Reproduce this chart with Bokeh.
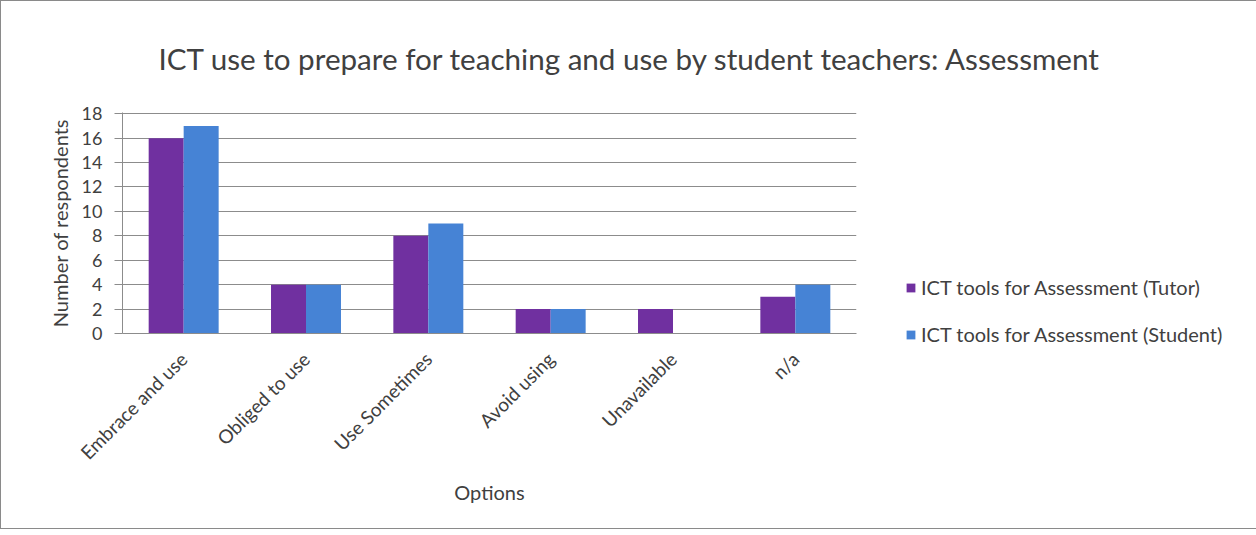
import math
from bokeh.plotting import figure
from bokeh.models import ColumnDataSource, Legend, LegendItem, FactorRange, Range1d, Title
from bokeh.transform import dodge
from bokeh.embed import file_html
from bokeh.resources import INLINE

categories = ["Embrace and use", "Obliged to use", "Use Sometimes", "Avoid using", "Unavailable", "n/a"]
tutor = [16, 4, 8, 2, 2, 3]
student = [17, 4, 9, 2, 0, 4]
series_names = ["ICT tools for Assessment (Tutor)", "ICT tools for Assessment (Student)"]
y_ticks = [0, 2, 4, 6, 8, 10, 12, 14, 16, 18]
title_text = "ICT use to prepare for teaching and use by student teachers: Assessment"

FONT = "Lato"
TXT = "#404040"
GRID = "#8c8c8c"

src = ColumnDataSource(dict(cat=categories, tutor=tutor, student=student))

p = figure(frame_width=734, frame_height=221, x_range=FactorRange(*categories), y_range=Range1d(0, 18.1),
           output_backend="svg", toolbar_location=None,
           min_border_left=121, min_border_right=385, min_border_top=111, min_border_bottom=195)
p.styles = {"border": "1px solid #8a8a8a"}
p.outline_line_color = None
p.background_fill_color = "white"

r1 = p.vbar(x=dodge("cat", -0.143, range=p.x_range), top="tutor", width=0.286, source=src,
            fill_color="#7030A0", line_color=None)
r2 = p.vbar(x=dodge("cat", 0.143, range=p.x_range), top="student", width=0.286, source=src,
            fill_color="#4683D5", line_color=None)

title = Title(text=title_text, align="left", offset=36, vertical_align="bottom", standoff=73,
              text_font=FONT, text_font_size="29.6px", text_color=TXT, text_font_style="normal")
p.add_layout(title, "above")

p.xgrid.grid_line_color = None
p.ygrid.grid_line_color = GRID
p.ygrid.grid_line_width = 1
p.yaxis.ticker = y_ticks
p.yaxis.minor_tick_line_color = None
p.yaxis.major_tick_out = 8
p.yaxis.major_tick_in = 0
p.yaxis.major_tick_line_color = GRID
p.yaxis.axis_line_color = GRID
p.yaxis.major_label_text_font = FONT
p.yaxis.major_label_text_font_size = "18px"
p.yaxis.major_label_text_color = TXT
p.yaxis.axis_label = "Number of respondents"
p.yaxis.axis_label_text_font = FONT
p.yaxis.axis_label_text_font_size = "20px"
p.yaxis.axis_label_text_font_style = "normal"
p.yaxis.axis_label_text_color = TXT
p.yaxis.major_label_standoff = 12
p.yaxis.axis_label_standoff = 7

p.xaxis.major_tick_line_color = None
p.xaxis.minor_tick_line_color = None
p.xaxis.axis_line_color = GRID
p.xaxis.major_label_orientation = math.pi / 4
p.xaxis.major_label_text_font = FONT
p.xaxis.major_label_text_font_size = "19px"
p.xaxis.major_label_text_color = TXT
p.xaxis.major_label_standoff = 16
p.xaxis.axis_label = "Options"
p.xaxis.axis_label_text_font = FONT
p.xaxis.axis_label_text_font_size = "20px"
p.xaxis.axis_label_text_font_style = "normal"
p.xaxis.axis_label_text_color = TXT
p.xaxis.axis_label_standoff = 5

legend = Legend(items=[LegendItem(label=series_names[0], renderers=[r1]),
                       LegendItem(label=series_names[1], renderers=[r2])],
                location=(49, -13), border_line_color=None, background_fill_alpha=0,
                label_text_font=FONT, label_text_font_size="20px", label_text_color=TXT,
                glyph_width=11, glyph_height=11, label_standoff=5, spacing=23,
                padding=0, margin=0, label_height=20)
p.add_layout(legend, "right")

open("out.html", "w").write(file_html(p, INLINE))
